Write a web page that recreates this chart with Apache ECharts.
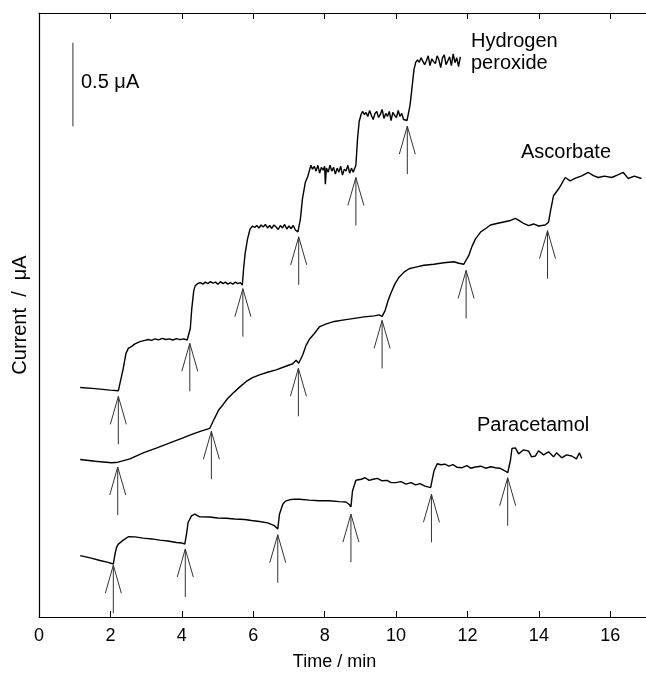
<!DOCTYPE html>
<html>
<head>
<meta charset="utf-8">
<script src="https://cdn.jsdelivr.net/npm/echarts@6/dist/echarts.min.js"></script>
<style>
html,body{margin:0;padding:0;background:#fff;}
#chart{width:646px;height:676px;}
</style>
</head>
<body>
<div id="chart"></div>
<script>
// ---- Data (time in min, current in µA, arbitrary offset) ----
var xTicks = [0, 2, 4, 6, 8, 10, 12, 14, 16];

var h2o2Time = [1.153,1.571,1.990,2.222,
  2.269,2.361,2.436,2.501,2.596,2.688,2.827,
  2.967,3.06,3.15,3.25,3.35,3.45,3.55,3.65,3.75,3.85,3.95,4.05,4.15,4.203,
  4.237,4.279,4.334,4.376,4.45,
  4.52,4.59,4.66,4.73,4.80,4.87,4.94,5.01,5.08,5.15,5.22,5.29,5.36,5.43,5.50,5.57,5.64,5.694,
  5.730,5.772,5.841,5.911,5.981,
  6.04,6.10,6.16,6.22,6.28,6.34,6.40,6.46,6.52,6.58,6.64,6.70,6.76,6.82,6.88,6.94,7.00,7.06,7.12,7.18,7.251,
  7.321,7.377,7.460,7.530,7.614,
  7.66,7.71,7.76,7.81,7.86,7.91,7.96,8.00,8.02,8.05,8.10,8.15,8.20,8.25,8.30,8.35,8.40,8.45,8.50,8.55,8.60,8.65,8.70,8.75,8.80,8.828,
  8.875,8.920,8.967,9.02,
  9.06,9.11,9.16,9.21,9.26,9.31,9.36,9.41,9.46,9.51,9.56,9.61,9.66,9.71,9.76,9.81,9.86,9.91,9.96,10.01,10.06,10.11,10.16,10.21,10.26,10.307,
  10.391,10.447,10.502,10.55,
  10.60,10.65,10.70,10.75,10.80,10.85,10.90,10.95,11.00,11.05,11.10,11.15,11.20,11.25,11.30,11.35,11.40,11.45,11.50,11.55,11.60,11.65,11.70,11.75,11.80];
var h2o2Current = [1.373,1.366,1.357,1.353,
  1.399,1.488,1.577,1.607,1.619,1.634,1.647,
  1.655,1.660,1.655,1.664,1.658,1.667,1.660,1.664,1.657,1.665,1.659,1.664,1.657,1.660,
  1.726,1.845,1.952,1.982,1.995,
  2.000,1.991,2.003,1.994,2.006,1.997,2.003,1.991,2.006,1.994,2.003,1.991,2.000,1.991,2.003,1.994,2.000,1.985,
  2.083,2.173,2.262,2.321,2.339,
  2.330,2.342,2.327,2.345,2.333,2.348,2.327,2.342,2.324,2.345,2.333,2.318,2.342,2.327,2.348,2.321,2.339,2.324,2.342,2.315,2.304,
  2.381,2.500,2.601,2.637,2.702,
  2.679,2.696,2.667,2.702,2.655,2.690,2.673,2.696,2.589,2.685,2.661,2.702,2.667,2.690,2.649,2.685,2.661,2.696,2.643,2.679,2.667,2.702,2.655,2.685,2.661,2.652,
  2.702,2.857,2.964,3.006,
  3.024,3.006,3.018,2.994,3.030,3.000,2.976,3.012,3.024,2.988,3.006,3.036,2.982,3.012,2.994,3.024,2.970,3.018,3.000,2.988,3.030,2.994,3.012,2.976,2.982,2.970,
  3.060,3.167,3.274,3.318,
  3.333,3.318,3.345,3.351,3.304,3.327,3.357,3.298,3.339,3.322,3.310,3.357,3.333,3.286,3.345,3.363,3.304,3.327,3.351,3.298,3.369,3.316,3.345,3.292,3.351];

var ascTime = [1.153,1.571,2.037,2.213,2.548,2.919,3.302,3.665,3.999,4.315,4.558,4.781,4.837,4.920,5.032,5.152,5.283,5.431,5.618,5.805,5.981,6.176,6.400,6.642,6.874,7.106,7.201,7.273,
  7.385,7.480,7.572,7.712,7.851,8.046,8.270,8.549,8.828,9.107,9.386,9.526,9.609,
  9.693,9.777,9.860,9.972,10.084,10.223,10.363,10.550,10.782,11.061,11.340,11.619,11.758,11.898,11.945,
  12.037,12.121,12.224,12.372,12.512,12.643,12.819,13.014,13.210,13.341,13.461,13.573,13.712,13.852,13.991,14.178,
  14.270,14.326,14.410,14.549,14.633,14.736,14.876,15.024,15.200,15.387,15.526,15.666,15.833,16.037,16.196,16.364,16.503,16.670,16.874];
var ascCurrent = [0.942,0.932,0.923,0.926,0.946,0.982,1.012,1.042,1.068,1.095,1.113,1.128,1.137,1.190,1.238,1.270,1.307,1.339,1.375,1.409,1.432,1.448,1.464,1.478,1.497,1.515,1.536,1.518,
  1.567,1.625,1.661,1.696,1.735,1.753,1.768,1.777,1.786,1.795,1.801,1.807,1.798,
  1.833,1.893,1.940,1.994,2.033,2.063,2.083,2.093,2.104,2.110,2.119,2.125,2.116,2.110,2.103,
  2.163,2.214,2.262,2.304,2.324,2.345,2.354,2.363,2.372,2.384,2.369,2.354,2.341,2.351,2.339,2.345,
  2.361,2.429,2.520,2.560,2.589,2.629,2.609,2.625,2.639,2.659,2.640,2.629,2.637,2.629,2.643,2.659,2.623,2.637,2.623];

var parTime = [1.153,1.432,1.711,1.934,2.082,2.129,2.171,2.222,2.361,2.501,2.688,2.919,3.162,3.385,3.609,3.852,3.999,4.083,
  4.131,4.175,4.270,4.362,4.502,4.781,5.004,5.247,5.479,5.758,5.953,6.176,6.400,6.595,6.687,
  6.735,6.827,6.902,7.014,7.153,7.293,7.572,7.851,8.130,8.409,8.596,8.688,8.736,
  8.780,8.875,8.920,9.023,9.135,9.246,9.358,9.478,9.609,9.749,9.860,9.992,10.140,10.279,10.419,10.550,10.670,10.809,10.968,
  11.061,11.153,11.256,11.368,11.479,11.591,11.703,11.850,11.982,12.093,12.224,12.372,12.512,12.652,12.783,12.903,13.062,13.126,
  13.201,13.246,13.341,13.433,13.573,13.712,13.796,13.899,13.991,14.131,14.270,14.410,14.494,14.642,14.773,14.920,15.052,15.135,15.200];
var parCurrent = [0.367,0.354,0.338,0.327,0.317,0.377,0.417,0.436,0.460,0.480,0.479,0.472,0.467,0.460,0.455,0.446,0.443,0.436,
  0.496,0.565,0.605,0.615,0.599,0.598,0.592,0.591,0.586,0.583,0.577,0.571,0.563,0.546,0.526,
  0.615,0.674,0.693,0.701,0.705,0.704,0.699,0.695,0.695,0.690,0.688,0.673,0.659,
  0.754,0.818,0.823,0.824,0.833,0.817,0.824,0.829,0.815,0.817,0.804,0.804,0.810,0.795,0.804,0.790,0.798,0.783,0.774,
  0.873,0.917,0.911,0.914,0.903,0.911,0.896,0.893,0.905,0.890,0.897,0.902,0.890,0.899,0.893,0.890,0.873,0.863,
  0.933,1.008,1.012,0.976,1.000,0.992,0.958,0.963,0.994,0.970,0.988,0.958,0.982,0.952,0.970,0.963,0.946,0.982,0.948];

// arrow tips [time, current]
var h2o2Arrows = [[2.222,1.320],[4.223,1.637],[5.710,1.964],[7.273,2.274],[8.875,2.629],[10.315,2.936]];
var ascArrows  = [[2.205,0.897],[4.828,1.111],[7.265,1.488],[9.609,1.774],[11.962,2.073],[14.242,2.311]];
var parArrows  = [[2.082,0.310],[4.097,0.407],[6.687,0.492],[8.736,0.615],[10.991,0.734],[13.126,0.833]];

// scale bar (0.5 µA)
var scaleBar = [[0.949,2.935],[0.949,3.435]];

var labels = ["Hydrogen\nperoxide", "Ascorbate", "Paracetamol", "0.5 \u03bcA"];

function zip(t, c){ return t.map(function(v,i){ return [v, c[i]]; }); }

var FONT = '"Liberation Sans", Arial, Helvetica, sans-serif';
var chart = echarts.init(document.getElementById('chart'), null, {renderer:'canvas'});

function arrowRender(params, api){
  var p = api.coord([api.value(0), api.value(1)]);
  var shaft = 48, headL = 28, headW = 8;
  return {
    type:'group',
    children:[
      {type:'line', shape:{x1:p[0], y1:p[1], x2:p[0], y2:p[1]+shaft}, style:{stroke:'#333', lineWidth:1}},
      {type:'polyline', shape:{points:[[p[0]-headW,p[1]+headL],[p[0],p[1]],[p[0]+headW,p[1]+headL]]}, style:{stroke:'#333', lineWidth:1, fill:null}}
    ]
  };
}

var lineStyle = {color:'#000', width:1.4};
var option = {
  animation:false,
  grid:{left:39, top:13, width:609, height:607},
  xAxis:[
    {type:'value', min:0, max:17, interval:2, position:'bottom',
     axisLine:{lineStyle:{color:'#000', width:1.2}},
     axisTick:{inside:true, length:6, lineStyle:{color:'#000'}},
     axisLabel:{color:'#000', fontSize:18, fontFamily:FONT, margin:10, showMaxLabel:false},
     splitLine:{show:false},
     name:'Time / min', nameLocation:'middle', nameGap:36,
     nameTextStyle:{color:'#000', fontSize:18, fontFamily:FONT, padding:[0,16,0,0]}},
    {type:'value', min:0, max:17, interval:2, position:'top',
     axisLine:{lineStyle:{color:'#000', width:1.2}},
     axisTick:{inside:true, length:6, lineStyle:{color:'#000'}},
     axisLabel:{show:false}, splitLine:{show:false}}
  ],
  yAxis:[{type:'value', min:0, max:3.613,
    axisLine:{show:true, lineStyle:{color:'#000', width:1.2}},
    axisTick:{show:false}, axisLabel:{show:false}, splitLine:{show:false},
    name:'Current  /  \u03bcA', nameLocation:'middle', nameGap:9,
    nameTextStyle:{color:'#000', fontSize:20, fontFamily:FONT}}],
  series:[
    {type:'line', data:zip(h2o2Time,h2o2Current), showSymbol:false, lineStyle:lineStyle},
    {type:'line', data:zip(ascTime,ascCurrent), showSymbol:false, lineStyle:lineStyle},
    {type:'line', data:zip(parTime,parCurrent), showSymbol:false, lineStyle:lineStyle},
    {type:'line', data:scaleBar, showSymbol:false, lineStyle:{color:'#555', width:1.2}},
    {type:'custom', renderItem:arrowRender, data:h2o2Arrows.concat(ascArrows, parArrows), clip:false}
  ],
  graphic:[
    {type:'text', left:471, top:30, style:{text:labels[0], fill:'#000', font:'20px '+FONT, lineHeight:22}},
    {type:'text', left:521, top:142, style:{text:labels[1], fill:'#000', font:'20px '+FONT}},
    {type:'text', left:477, top:415, style:{text:labels[2], fill:'#000', font:'20px '+FONT}},
    {type:'text', left:81, top:72, style:{text:labels[3], fill:'#000', font:'20px '+FONT}}
  ]
};
chart.setOption(option);
</script>
</body>
</html>
